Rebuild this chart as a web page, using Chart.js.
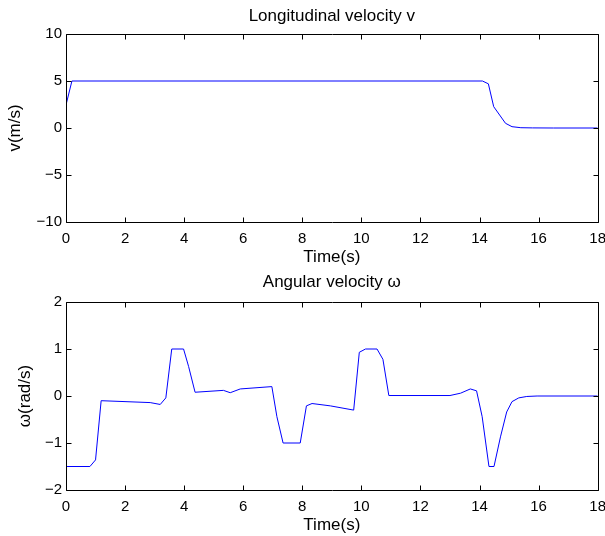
<!DOCTYPE html>
<html>
<head>
<meta charset="utf-8">
<script src="https://cdn.jsdelivr.net/npm/chart.js@4.4.0/dist/chart.umd.min.js"></script>
<style>
html,body{margin:0;padding:0;background:#fff;overflow:hidden;}
#wrap{position:relative;width:605px;height:536px;overflow:hidden;}
.box{position:absolute;left:0;width:614px;height:268px;}
</style>
</head>
<body>
<div id="wrap">
  <div class="box" style="top:0"><canvas id="c1" width="614" height="268"></canvas></div>
  <div class="box" style="top:268px"><canvas id="c2" width="614" height="268"></canvas></div>
</div>
<script>
// Longitudinal velocity data
const vTime = [0, 0.2, 14.1, 14.3, 14.48, 14.88, 15.1, 15.4, 15.8, 16.5, 18];
const vValues = [2.45, 5, 5, 4.7, 2.27, 0.5, 0.14, 0.03, 0.01, 0, 0];

// Angular velocity data
const wTime = [0, 0.81, 1.0, 1.19, 2.85, 3.19, 3.38, 3.58, 3.98, 4.15, 4.37, 5.33, 5.56, 5.9, 6.97, 7.14, 7.35, 7.93, 8.14, 8.33, 8.95, 9.74, 9.93, 10.14, 10.53, 10.73, 10.93, 13.0, 13.36, 13.69, 13.9, 14.09, 14.32, 14.49, 14.71, 14.92, 15.1, 15.33, 15.6, 15.95, 18];
const wValues = [-1.5, -1.5, -1.36, -0.1, -0.14, -0.18, -0.04, 1.0, 1.0, 0.63, 0.08, 0.12, 0.07, 0.15, 0.2, -0.44, -1.0, -1.0, -0.21, -0.16, -0.21, -0.3, 0.93, 1.0, 1.0, 0.78, 0.01, 0.01, 0.06, 0.15, 0.11, -0.44, -1.5, -1.5, -0.87, -0.34, -0.12, -0.04, -0.01, 0, 0];

const xTicks = [0, 2, 4, 6, 8, 10, 12, 14, 16, 18];
const vTicks = [-10, -5, 0, 5, 10];
const wTicks = [-2, -1, 0, 1, 2];

const FONT = "'Liberation Sans', Arial, Helvetica, sans-serif";

const boxPlugin = {
  id: 'matlabBox',
  afterDraw(chart, args, opts) {
    const ctx = chart.ctx;
    const a = chart.chartArea;
    const xs = chart.scales.x, ys = chart.scales.y;
    ctx.save();
    ctx.strokeStyle = '#000';
    ctx.lineWidth = 1;
    const L = Math.round(a.left) + 0.5, R = Math.round(a.right) + 0.5;
    const T = Math.round(a.top) + 0.5, B = Math.round(a.bottom) + 0.5;
    ctx.beginPath();
    ctx.rect(L, T, R - L, B - T);
    const tl = 5;
    xs.ticks.forEach(t => {
      const px = Math.round(xs.getPixelForValue(t.value)) + 0.5;
      ctx.moveTo(px, B); ctx.lineTo(px, B - tl);
      ctx.moveTo(px, T); ctx.lineTo(px, T + tl);
    });
    ys.ticks.forEach(t => {
      const py = Math.round(ys.getPixelForValue(t.value)) + 0.5;
      ctx.moveTo(L, py); ctx.lineTo(L + tl, py);
      ctx.moveTo(R, py); ctx.lineTo(R - tl, py);
    });
    ctx.stroke();
    ctx.fillStyle = '#000';
    ctx.font = '17px ' + FONT;
    ctx.textAlign = 'center';
    ctx.textBaseline = 'middle';
    ctx.fillText(opts.text, (a.left + a.right) / 2, opts.y);
    ctx.restore();
  }
};

function makeChart(id, times, values, yTicks, yMin, yMax, yLabel, title, titleY, yTitlePad) {
  const pts = times.map((t, i) => ({x: t, y: values[i]}));
  return new Chart(document.getElementById(id), {
    type: 'line',
    data: { datasets: [{ data: pts, borderColor: '#0000ff', borderWidth: 1, pointRadius: 0, tension: 0, fill: false }] },
    options: {
      responsive: false,
      animation: false,
      events: [],
      layout: { padding: { top: 34, right: 0, left: 0, bottom: 0 } },
      plugins: { legend: { display: false }, tooltip: { enabled: false }, matlabBox: { text: title, y: titleY } },
      scales: {
        x: {
          type: 'linear', min: 0, max: 18,
          afterBuildTicks: s => { s.ticks = xTicks.map(v => ({value: v})); },
          afterFit: s => { s.height = 46; },
          grid: { display: false, drawTicks: false },
          border: { display: false },
          ticks: { color: '#000', font: { family: FONT, size: 15 }, padding: 8, maxRotation: 0, autoSkip: false },
          title: { display: true, text: 'Time(s)', color: '#000', font: { family: FONT, size: 17 }, padding: { top: 0, bottom: 0 } }
        },
        y: {
          type: 'linear', min: yMin, max: yMax,
          afterBuildTicks: s => { s.ticks = yTicks.map(v => ({value: v})); },
          afterFit: s => { s.width = 66; },
          grid: { display: false, drawTicks: false },
          border: { display: false },
          ticks: { color: '#000', font: { family: FONT, size: 15 }, padding: 4, autoSkip: false,
                   callback: v => (v < 0 ? '\u2212' + Math.abs(v) : '' + v) },
          title: { display: true, text: yLabel, color: '#000', font: { family: FONT, size: 17 }, padding: { top: yTitlePad, bottom: 0 } }
        }
      }
    },
    plugins: [boxPlugin]
  });
}

makeChart('c1', vTime, vValues, vTicks, -10, 10, 'v(m/s)', 'Longitudinal velocity v', 16, 5);
makeChart('c2', wTime, wValues, wTicks, -2, 2, '\u03c9(rad/s)', 'Angular velocity \u03c9', 14, 15);
</script>
</body>
</html>
